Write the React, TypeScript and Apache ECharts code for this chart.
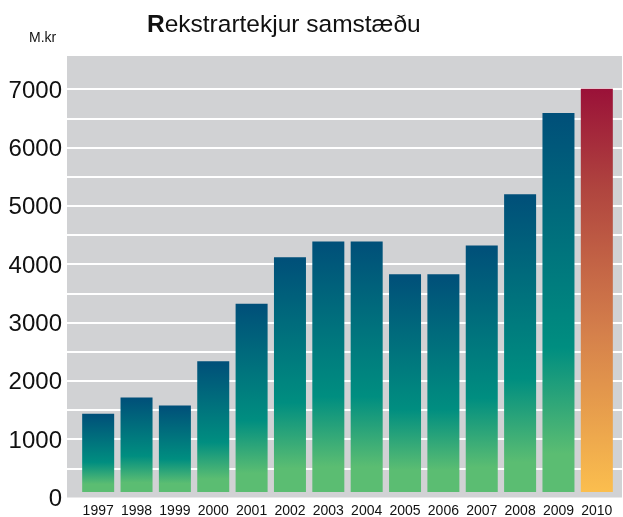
import React, { useEffect, useRef } from "react";
import * as echarts from "echarts";

const years = ["1997", "1998", "1999", "2000", "2001", "2002", "2003", "2004", "2005", "2006", "2007", "2008", "2009", "2010"];
const revenue = [1360, 1640, 1500, 2270, 3270, 4075, 4350, 4350, 3780, 3780, 4280, 5170, 6580, 7000];
const highlightYear = "2010";
const titleText = "Rekstrartekjur samstæðu";
const unitText = "M.kr";

const FONT = "'Liberation Sans', Arial, sans-serif";

export default function App() {
  const ref = useRef<HTMLDivElement>(null);
  useEffect(() => {
    if (!ref.current) return;
    const chart = echarts.init(ref.current, null, { renderer: "svg" });
    const blue = new echarts.graphic.LinearGradient(0, 0, 0, 1, [
      { offset: 0, color: "#004f79" },
      { offset: 0.62, color: "#008e80" },
      { offset: 0.9, color: "#5bbd72" },
      { offset: 1, color: "#5bbd72" },
    ]);
    const red = new echarts.graphic.LinearGradient(0, 0, 0, 1, [
      { offset: 0, color: "#9a1138" },
      { offset: 0.25, color: "#b0453f" },
      { offset: 0.6, color: "#d47f4b" },
      { offset: 1, color: "#fbbe4e" },
    ]);
    const yMax = 7500;
    const plotTop = 60;
    const plotBottom = 19.5;
    chart.setOption({
      animation: false,
      title: {
        text: "{b|" + titleText.charAt(0) + "}" + titleText.slice(1),
        left: 142,
        top: 6,
        textStyle: {
          fontFamily: FONT,
          fontSize: 24.5,
          fontWeight: "normal",
          color: "#111",
          rich: {
            b: {
              fontFamily: FONT,
              fontSize: 24.5,
              fontWeight: "bold",
              color: "#111",
            },
          },
        },
      },
      graphic: [
        {
          type: "text",
          left: 29,
          top: 30,
          style: { text: unitText, font: "14px " + FONT, fill: "#111" },
        },
      ],
      grid: [
        { left: 67, right: 1, top: 56, bottom: plotBottom, show: true, backgroundColor: "#d1d2d4", borderWidth: 0 },
        { left: 67, right: 1, top: plotTop, bottom: plotBottom },
        { left: 79, right: 7, top: plotTop, bottom: plotBottom },
      ],
      xAxis: [
        { type: "category", gridIndex: 0, data: years, show: false },
        { type: "category", gridIndex: 1, data: years, show: false },
        {
          type: "category",
          gridIndex: 2,
          data: years,
          axisLine: { show: false },
          axisTick: { show: false },
          axisLabel: { fontFamily: FONT, fontSize: 14, color: "#111", margin: 11, interval: 0 },
        },
      ],
      yAxis: [
        { type: "value", gridIndex: 0, min: 0, max: yMax, show: false, splitLine: { show: false } },
        {
          type: "value",
          gridIndex: 1,
          min: 0,
          max: yMax,
          interval: 500,
          axisLine: { show: false },
          axisTick: { show: false },
          splitLine: {
            show: true,
            showMinLine: false,
            showMaxLine: false,
            lineStyle: { color: "#ffffff", width: 2 },
          },
          axisLabel: {
            fontFamily: FONT,
            fontSize: 24,
            color: "#111",
            margin: 5,
            formatter: (v: number) => (v % 1000 === 0 ? String(v) : ""),
          },
        },
        { type: "value", gridIndex: 2, min: 0, max: yMax, show: false, splitLine: { show: false } },
      ],
      series: [
        {
          type: "bar",
          xAxisIndex: 2,
          yAxisIndex: 2,
          barWidth: 32,
          data: revenue.map((v, i) => ({
            value: v,
            itemStyle: { color: years[i] === highlightYear ? red : blue },
          })),
        },
      ],
    });
    return () => chart.dispose();
  }, []);
  return <div ref={ref} style={{ position: "fixed", left: 0, top: 0, width: 623, height: 517 }} />;
}
